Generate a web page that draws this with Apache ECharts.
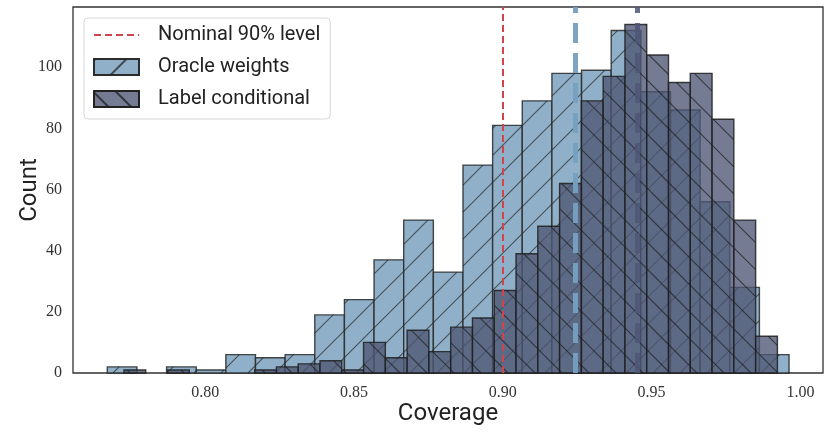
<!DOCTYPE html>
<html>
<head>
<meta charset="utf-8">
<script src="https://cdn.jsdelivr.net/npm/echarts@6/dist/echarts.min.js"></script>
<style>
  html, body { margin: 0; padding: 0; background: #fff; }
  #chart { width: 831px; height: 436px; }
</style>
</head>
<body>
<div id="chart"></div>
<script>
// histogram bins (1000 runs each)
const oracleStart = 0.7671;
const oracleWidth = 0.00996;
const oracleCounts = [2, 0, 2, 1, 6, 5, 6, 19, 24, 37, 50, 33, 68, 81, 89, 98, 99, 112, 92, 86, 56, 28, 6];

const labelStart = 0.7727;
const labelWidth = 0.007319;
const labelCounts = [1, 0, 1, 0, 0, 0, 1, 2, 3, 4, 1, 10, 5, 14, 7, 15, 18, 27, 39, 48, 62, 89, 97, 114, 104, 95, 98, 83, 50, 12];

const nominalLevel = 0.90;
const oracleMean = 0.9242;
const labelMean = 0.9451;

const xTicks = [0.80, 0.85, 0.90, 0.95, 1.00];
const yTicks = [0, 20, 40, 60, 80, 100];

const HATCH_GAP = 27;

function toBins(start, width, counts) {
  return counts.map((c, i) => [start + i * width, start + (i + 1) * width, c]);
}

// diagonal hatch lines clipped to a box, anchored to the canvas so they run on across bars
function hatch(x0, y0, x1, y1, dir, color) {
  const out = [];
  const s = HATCH_GAP;
  if (dir === '/') {
    for (let k = Math.ceil((x0 + y0) / s); k * s <= x1 + y1; k++) {
      const c = k * s;
      const xa = Math.max(x0, c - y1), xb = Math.min(x1, c - y0);
      if (xb - xa > 0.5) {
        out.push({ type: 'line', shape: { x1: xa, y1: c - xa, x2: xb, y2: c - xb },
          style: { stroke: color, lineWidth: 1.1 }, silent: true });
      }
    }
  } else {
    for (let k = Math.ceil((x0 - y1) / s); k * s <= x1 - y0; k++) {
      const c = k * s;
      const xa = Math.max(x0, c + y0), xb = Math.min(x1, c + y1);
      if (xb - xa > 0.5) {
        out.push({ type: 'line', shape: { x1: xa, y1: xa - c, x2: xb, y2: xb - c },
          style: { stroke: color, lineWidth: 1.1 }, silent: true });
      }
    }
  }
  return out;
}

function binRenderer(dir, hatchColor) {
  return function (params, api) {
    if (api.value(2) <= 0) return null;
    const p0 = api.coord([api.value(0), 0]);
    const p1 = api.coord([api.value(1), api.value(2)]);
    const x0 = p0[0], x1 = p1[0], y0 = p1[1], y1 = p0[1];
    const st = api.style();
    const fill = { type: 'rect', shape: { x: x0, y: y0, width: x1 - x0, height: y1 - y0 },
      style: { fill: st.fill, stroke: null } };
    const edge = { type: 'rect', shape: { x: x0, y: y0, width: x1 - x0, height: y1 - y0 },
      style: { fill: null, stroke: st.stroke, lineWidth: st.lineWidth } };
    return { type: 'group', children: [fill].concat(hatch(x0, y0, x1, y1, dir, hatchColor), [edge]) };
  };
}

const sansFont = 'Roboto';
const serifFont = 'Liberation Serif';

const chart = echarts.init(document.getElementById('chart'), null, { renderer: 'canvas' });

chart.setOption({
  animation: false,
  backgroundColor: '#fff',
  grid: {
    left: 73, top: 7, width: 750, height: 366,
    outerBoundsMode: 'none', containLabel: false,
    show: true, borderColor: '#333', borderWidth: 1.3
  },
  legend: {
    orient: 'vertical',
    left: 84, top: 18,
    padding: [6, 10, 9, 9],
    itemWidth: 45, itemHeight: 16, itemGap: 10,
    backgroundColor: 'rgba(255,255,255,0.85)',
    borderColor: '#d6d6d6', borderWidth: 1, borderRadius: 4,
    textStyle: { fontFamily: sansFont, fontSize: 20, color: '#222', lineHeight: 22, padding: [0, 0, 0, 14] },
    data: [
      { name: 'Nominal 90% level', itemStyle: { opacity: 0 } },
      { name: 'Oracle weights', icon: 'rect' },
      { name: 'Label conditional', icon: 'rect' }
    ]
  },
  xAxis: {
    type: 'value',
    min: 0.75558, max: 1.00759,
    name: 'Coverage', nameLocation: 'middle', nameGap: 29, nameMoveOverlap: false,
    nameTextStyle: { fontFamily: sansFont, fontSize: 24, color: '#222' },
    axisLine: { show: false }, axisTick: { show: false }, splitLine: { show: false },
    axisLabel: {
      customValues: xTicks, margin: 12,
      fontFamily: serifFont, fontSize: 16, color: '#333',
      formatter: v => v.toFixed(2)
    }
  },
  yAxis: {
    type: 'value',
    min: 0, max: 119.7,
    name: 'Count', nameLocation: 'middle', nameGap: 31, nameMoveOverlap: false,
    nameTextStyle: { fontFamily: sansFont, fontSize: 24, color: '#222' },
    axisLine: { show: false }, axisTick: { show: false }, splitLine: { show: false },
    axisLabel: {
      customValues: yTicks, margin: 11,
      fontFamily: serifFont, fontSize: 16, color: '#333'
    }
  },
  series: [
    {
      name: 'Nominal 90% level',
      type: 'line',
      data: [],
      symbol: 'none',
      itemStyle: { color: '#d2434b' },
      lineStyle: { color: '#d2434b', width: 2, type: [7, 4] },
      z: 10,
      markLine: {
        silent: true, symbol: 'none', label: { show: false }, precision: 4,
        lineStyle: { color: '#d2434b', width: 2, type: [7, 4] },
        data: [{ xAxis: nominalLevel }]
      }
    },
    {
      name: 'Oracle weights',
      type: 'custom',
      renderItem: binRenderer('/', 'rgba(40,40,40,0.7)'),
      encode: { x: [0, 1], y: 2 },
      data: toBins(oracleStart, oracleWidth, oracleCounts),
      itemStyle: {
        color: '#8fb0c8', borderColor: 'rgba(40,40,40,0.85)', borderWidth: 1.4,
        decal: {
          symbol: 'rect', symbolSize: 1, color: 'rgba(40,40,40,0.75)',
          dashArrayX: [1, 0], dashArrayY: [1.2, 20], rotation: -Math.PI / 4
        }
      },
      z: 2
    },
    {
      name: 'Label conditional',
      type: 'custom',
      renderItem: binRenderer('\\', 'rgba(30,30,30,0.7)'),
      encode: { x: [0, 1], y: 2 },
      data: toBins(labelStart, labelWidth, labelCounts),
      itemStyle: {
        color: 'rgba(78,86,115,0.78)', borderColor: 'rgba(30,30,30,0.85)', borderWidth: 1.4,
        decal: {
          symbol: 'rect', symbolSize: 1, color: 'rgba(30,30,30,0.75)',
          dashArrayX: [1, 0], dashArrayY: [1.2, 14], rotation: Math.PI / 4
        }
      },
      z: 3
    },
    {
      name: 'means',
      type: 'line',
      data: [],
      z: 9,
      markLine: {
        silent: true, symbol: 'none', label: { show: false }, precision: 4,
        data: [
          { xAxis: oracleMean, lineStyle: { color: 'rgba(118,160,192,0.95)', width: 5, type: [20, 10] } },
          { xAxis: labelMean, lineStyle: { color: 'rgba(78,86,118,0.85)', width: 5, type: [20, 10] } }
        ]
      }
    }
  ]
});
</script>
</body>
</html>
